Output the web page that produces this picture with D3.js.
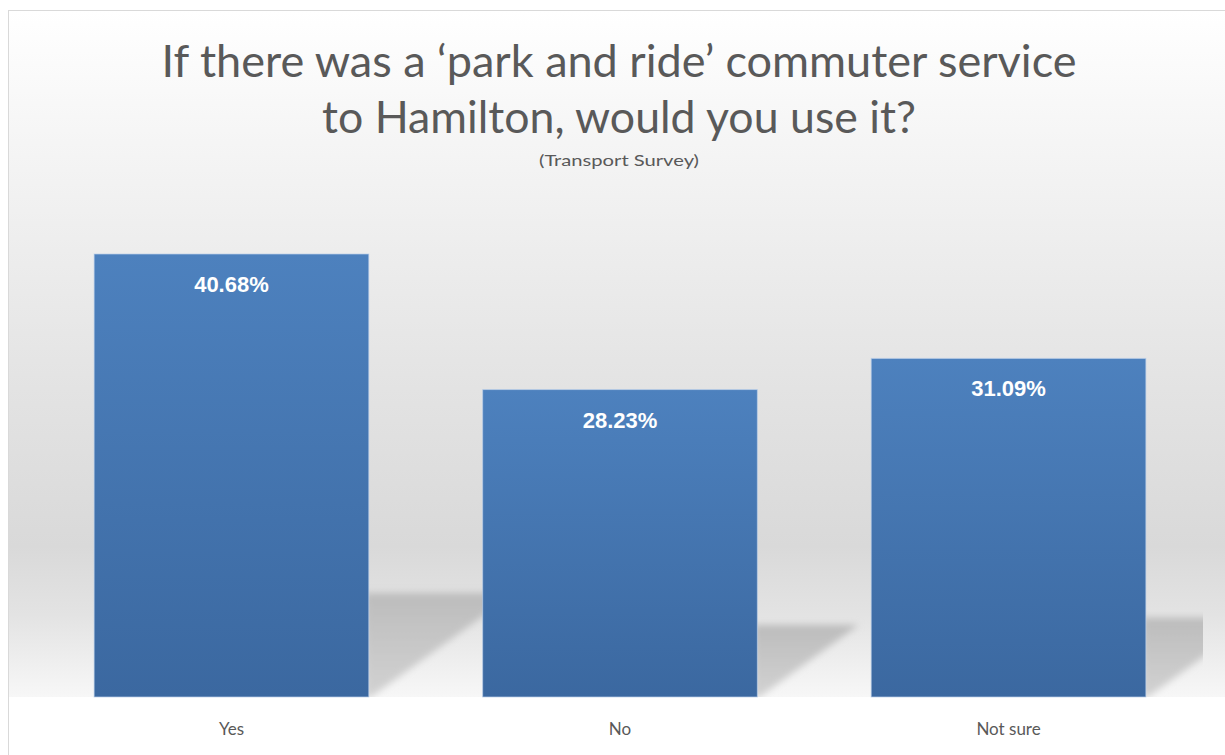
<!DOCTYPE html>
<html><head><meta charset="utf-8">
<script src="https://cdn.jsdelivr.net/npm/d3@7"></script>
<style>html,body{margin:0;padding:0;background:#fff;}svg{display:block;}</style>
</head><body>
<svg id="c" width="1225" height="755"></svg>
<script>
const categories = ["Yes", "No", "Not sure"];
const values = [40.68, 28.23, 31.09];
const labels = ["40.68%", "28.23%", "31.09%"];
const titleLines = ["If there was a \u2018park and ride\u2019 commuter service", "to Hamilton, would you use it?"];
const subtitle = "(Transport Survey)";

const svg = d3.select("#c");
const W = 1225, H = 755;
const base = 697;
const x = d3.scaleBand().domain(categories).range([37, 1203]).paddingInner(0.293).paddingOuter(0.147);
const y = d3.scaleLinear().domain([0, 45]).range([base, base - 45 * 10.89]);

const defs = svg.append("defs");
const bg = defs.append("linearGradient").attr("id", "bg").attr("gradientUnits", "userSpaceOnUse")
  .attr("x1", 0).attr("x2", 0).attr("y1", 11).attr("y2", base);
[[0, "#ffffff"], [0.25, "#f2f2f2"], [0.55, "#e3e3e3"], [0.78, "#d9d9d9"], [0.88, "#e3e3e3"], [1, "#f7f7f7"]]
  .forEach(([o, c]) => bg.append("stop").attr("offset", o).attr("stop-color", c));
const bar = defs.append("linearGradient").attr("id", "bar").attr("x1", 0).attr("x2", 0).attr("y1", 0).attr("y2", 1);
bar.append("stop").attr("offset", "0%").attr("stop-color", "#4d81be");
bar.append("stop").attr("offset", "100%").attr("stop-color", "#3b68a0");
const shg = defs.append("linearGradient").attr("id", "shg").attr("x1", 0).attr("x2", 0).attr("y1", 0).attr("y2", 1);
shg.append("stop").attr("offset", "0%").attr("stop-color", "#bcbcbc");
shg.append("stop").attr("offset", "100%").attr("stop-color", "#d2d2d2");
defs.append("filter").attr("id", "blur").attr("x", "-20%").attr("y", "-20%").attr("width", "140%").attr("height", "140%")
  .append("feGaussianBlur").attr("stdDeviation", 3.5);
defs.append("clipPath").attr("id", "plotclip").append("rect").attr("x", 9).attr("y", 10).attr("width", 1194).attr("height", base - 10);

// background
svg.append("rect").attr("x", 0).attr("y", 0).attr("width", W).attr("height", H).attr("fill", "#ffffff");
svg.append("rect").attr("x", 9).attr("y", 11).attr("width", W - 9).attr("height", base - 11).attr("fill", "url(#bg)");
svg.append("line").attr("x1", 8.5).attr("x2", 8.5).attr("y1", 10).attr("y2", H).attr("stroke", "#d9d9d9");
svg.append("line").attr("x1", 8).attr("x2", W).attr("y1", 10.5).attr("y2", 10.5).attr("stroke", "#d9d9d9");

// perspective shadows (cast backward-right)
const sh = svg.append("g").attr("clip-path", "url(#plotclip)").append("g").attr("filter", "url(#blur)");
categories.forEach((c, i) => {
  const x1 = x(c) + x.bandwidth();
  const hBar = base - y(values[i]);
  const ts = base - hBar * 0.235;
  const dx = hBar * 0.33;
  sh.append("path")
    .attr("d", d3.line()([[x1 - 4, ts], [x1 + dx, ts], [x1 + 2, base], [x1 - 4, base]]) + "Z")
    .attr("fill", "url(#shg)");
});

// bars
svg.append("g").selectAll("rect").data(categories).join("rect")
  .attr("x", d => x(d)).attr("width", x.bandwidth())
  .attr("y", (d, i) => y(values[i])).attr("height", (d, i) => base - y(values[i]))
  .attr("fill", "url(#bar)").attr("stroke", "#bcd0ea").attr("stroke-opacity", 0.7).attr("stroke-width", 1);

// data labels
svg.append("g").selectAll("text").data(categories).join("text")
  .attr("x", d => x(d) + x.bandwidth() / 2).attr("y", (d, i) => y(values[i]) + 38)
  .attr("text-anchor", "middle").attr("fill", "#ffffff")
  .style("font-family", "'Liberation Sans', Arial, sans-serif").style("font-weight", "bold").style("font-size", "22px")
  .text((d, i) => labels[i]);

// axis labels
const ax = d3.axisBottom(x).tickSize(0).tickPadding(0);
const axg = svg.append("g").attr("transform", `translate(0,${base})`).call(ax);
axg.select(".domain").remove();
axg.selectAll("text").attr("y", 38).attr("dy", 0).attr("fill", "#595959")
  .style("font-family", "Lato, 'Open Sans', sans-serif").style("font-size", "17px");

// title
const tw = [915, 594];
titleLines.forEach((t, i) => {
  svg.append("text").attr("x", 619).attr("y", 77 + i * 56).attr("text-anchor", "middle")
    .attr("fill", "#595959").style("font-family", "Lato, 'Open Sans', sans-serif").style("font-size", "44px")
    .attr("textLength", tw[i]).attr("lengthAdjust", "spacingAndGlyphs").text(t);
});
svg.append("text").attr("x", 619).attr("y", 166).attr("text-anchor", "middle")
  .attr("fill", "#595959").style("font-family", "Lato, 'Open Sans', sans-serif").style("font-size", "15px")
  .attr("textLength", 160).attr("lengthAdjust", "spacingAndGlyphs").text(subtitle);
</script>
</body></html>
